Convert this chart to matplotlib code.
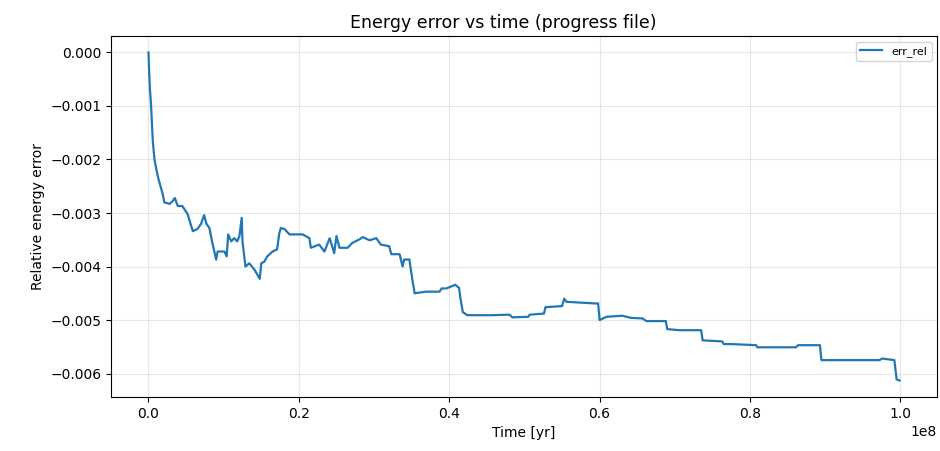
"""Relative energy error over the run, read from the progress file."""
import matplotlib
matplotlib.use("Agg")
import matplotlib.pyplot as plt
import numpy as np

# time in Myr, relative error in units of 1e-3 (ten samples per row)
time_myr = [
    0.0, 0.1, 0.2, 0.35, 0.45, 0.57, 0.7, 0.8, 1.0, 1.3,
    1.6, 1.9, 2.1, 2.8, 3.2, 3.5, 3.9, 4.5, 5.2, 5.9,
    6.5, 7.0, 7.4, 7.7, 8.1, 8.5, 9.0, 9.2, 10.1, 10.4,
    10.6, 11.0, 11.4, 11.8, 12.1, 12.4, 12.5, 12.9, 13.4, 14.1,
    14.8, 15.0, 15.4, 15.8, 16.5, 17.1, 17.4, 17.6, 18.1, 18.75,
    20.5, 21.4, 21.6, 22.7, 23.4, 24.1, 24.7, 25.0, 25.4, 26.5,
    27.1, 28.1, 28.5, 29.4, 30.3, 30.9, 32.0, 32.3, 33.4, 33.8,
    34.0, 34.7, 35.1, 35.4, 36.9, 38.7, 39.0, 39.6, 40.5, 40.8,
    41.3, 41.5, 41.8, 42.4, 42.7, 45.7, 48.0, 48.4, 50.5, 50.7,
    52.6, 52.8, 55.0, 55.3, 55.6, 59.4, 59.8, 60.0, 60.9, 63.0,
    64.2, 65.7, 66.2, 68.8, 69.0, 70.6, 73.5, 73.7, 76.3, 76.5,
    77.5, 80.8, 81.0, 86.1, 86.4, 89.3, 89.5, 97.2, 97.6, 99.2,
    99.5, 99.9,
]
err_rel_e3 = [
    0.0, -0.4, -0.7, -1.0, -1.3, -1.64, -1.85, -2.0, -2.15, -2.35,
    -2.5, -2.65, -2.8, -2.83, -2.78, -2.72, -2.87, -2.87, -3.02, -3.34,
    -3.30, -3.20, -3.04, -3.20, -3.28, -3.56, -3.87, -3.72, -3.72, -3.81,
    -3.40, -3.53, -3.47, -3.53, -3.43, -3.09, -3.53, -4.00, -3.94, -4.06,
    -4.23, -3.94, -3.91, -3.81, -3.72, -3.68, -3.38, -3.28, -3.30, -3.40,
    -3.40, -3.47, -3.65, -3.59, -3.72, -3.47, -3.75, -3.43, -3.65, -3.65,
    -3.56, -3.49, -3.45, -3.51, -3.47, -3.59, -3.62, -3.77, -3.77, -4.00,
    -3.87, -3.87, -4.25, -4.50, -4.47, -4.47, -4.41, -4.41, -4.36, -4.34,
    -4.40, -4.60, -4.85, -4.91, -4.91, -4.91, -4.90, -4.95, -4.94, -4.90,
    -4.88, -4.76, -4.74, -4.60, -4.66, -4.69, -4.69, -5.00, -4.94, -4.92,
    -4.96, -4.97, -5.02, -5.02, -5.17, -5.19, -5.19, -5.38, -5.40, -5.45,
    -5.45, -5.47, -5.51, -5.51, -5.47, -5.47, -5.75, -5.75, -5.72, -5.75,
    -6.11, -6.13,
]

t = np.array(time_myr) * 1e6
err = np.array(err_rel_e3) * 1e-3

fig = plt.figure(figsize=(9.4, 4.51), dpi=100)
ax = fig.add_axes([0.118, 0.12, 0.879, 0.80])
ax.plot(t, err, color="#1f77b4", linewidth=1.6, label="err_rel")
ax.set_title("Energy error vs time (progress file)", fontsize=12.5, x=0.475)
ax.set_xlabel("Time [yr]", fontsize=10)
ax.set_ylabel("Relative energy error", fontsize=10)
ax.grid(True, alpha=0.3)
ax.legend(loc="upper right", fontsize=8)

fig.savefig("out.png", dpi=100)
